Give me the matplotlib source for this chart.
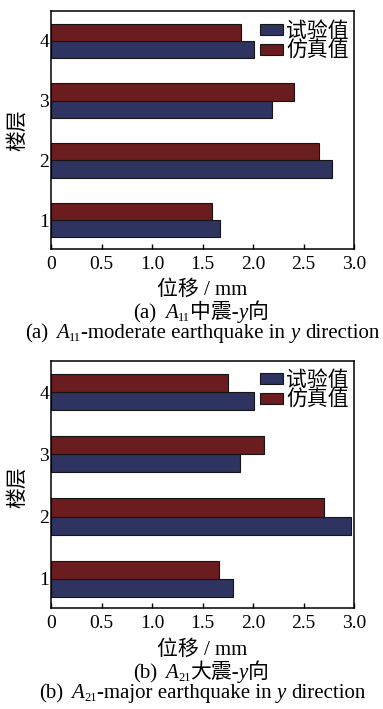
import numpy as np
import matplotlib
matplotlib.use("Agg")
import matplotlib.pyplot as plt
from matplotlib.patches import Patch

plt.rcParams["font.family"] = ["Liberation Serif", "Noto Sans CJK SC"]

floors = [1, 2, 3, 4]
xticks = [0, 0.5, 1.0, 1.5, 2.0, 2.5, 3.0]
xtick_labels = ["0", "0.5", "1.0", "1.5", "2.0", "2.5", "3.0"]

# (a) A11 moderate earthquake, y direction
test_a = [1.67, 2.78, 2.19, 2.01]
sim_a = [1.59, 2.65, 2.41, 1.88]
# (b) A21 major earthquake, y direction
test_b = [1.80, 2.97, 1.87, 2.01]
sim_b = [1.66, 2.70, 2.11, 1.75]

labels = ["试验值", "仿真值"]

BLUE = "#2e335f"
RED = "#6a1c1f"
EDGE = "#151515"
W, H = 383, 709
FS = 15
SP = 0.25 * FS * 100 / 72  # width of a space in px


def caption(tag, sub, zh_mid, en_mid, panel_no):
    # pieces: (text, size, italic, dy in px) ; None -> gap
    zh = [(tag, FS, False, 0), SP * 1.6, ("A", FS, True, 0), (sub, 9, False, 3),
          (zh_mid, FS, False, 0), ("y", FS, True, 0), ("向", FS, False, 0)]
    en = [(tag, FS, False, 0), SP * 1.6, ("A", FS, True, 0), (sub, 9, False, 3),
          (en_mid, FS, False, 0), SP, ("y", FS, True, 0), SP, ("direction", FS, False, 0)]
    return zh, en


def rich_text(xc, base, pieces):
    renderer = fig.canvas.get_renderer()
    items = []
    for p in pieces:
        if isinstance(p, float):
            items.append((None, p, 0))
            continue
        s, size, italic, dy = p
        t = fig.text(0, 0, s, fontsize=size, style="italic" if italic else "normal",
                     ha="left", va="baseline")
        items.append((t, t.get_window_extent(renderer).width, dy))
    total = sum(w for _, w, _ in items)
    x = xc - total / 2
    for t, w, dy in items:
        if t is not None:
            t.set_position((x / W, 1 - (base + dy) / H))
        x += w


def panel(rect, test, sim, ylim, caps, ypos, leg_y):
    ax = fig.add_axes(rect)
    y = np.array(floors)
    h = 0.29
    ax.barh(y - h / 2, test, height=h, color=BLUE, edgecolor=EDGE, linewidth=0.8)
    ax.barh(y + h / 2, sim, height=h, color=RED, edgecolor=EDGE, linewidth=0.8)
    ax.set_xlim(0, 3.0)
    ax.set_ylim(*ylim)
    ax.set_xticks(xticks)
    ax.set_xticklabels(xtick_labels)
    ax.set_yticks(floors)
    ax.tick_params(axis="x", direction="in", length=3.8, width=1, pad=5, labelsize=14)
    ax.tick_params(axis="y", length=0, pad=1.5, labelsize=14)
    for s in ax.spines.values():
        s.set_linewidth(1.1)
    handles = [Patch(facecolor=BLUE, edgecolor=EDGE, linewidth=0.8),
               Patch(facecolor=RED, edgecolor=EDGE, linewidth=0.8)]
    ax.legend(handles, labels, loc="upper right", bbox_to_anchor=(1.0, leg_y),
              frameon=False, fontsize=FS, handlelength=1.1, handleheight=0.5,
              handletextpad=0.15, labelspacing=0.0, borderaxespad=0.15,
              borderpad=0.1)
    fig.text(18 / W, 1 - ypos[0] / H, "楼层", rotation=90, ha="center", va="center", fontsize=FS)
    fig.text(202 / W, 1 - ypos[1] / H, "位移 / mm", ha="center", va="baseline", fontsize=FS)
    rich_text(201, ypos[2], caps[0])
    rich_text(202, ypos[3], caps[1])
    return ax


fig = plt.figure(figsize=(W / 100, H / 100), dpi=100)
cap_a = caption("(a)", "11", "中震-", "-moderate earthquake in", 0)
cap_b = caption("(b)", "21", "大震-", "-major earthquake in", 1)
panel([51 / W, 1 - 249 / H, 303 / W, 238 / H], test_a, sim_a, (0.515, 4.5), cap_a,
      (130, 295, 318, 338), 0.975)
panel([51 / W, 1 - 608 / H, 303 / W, 247 / H], test_b, sim_b, (0.53, 4.5), cap_b,
      (487, 655, 678, 698), 0.98)

fig.savefig("out.png", dpi=100)
